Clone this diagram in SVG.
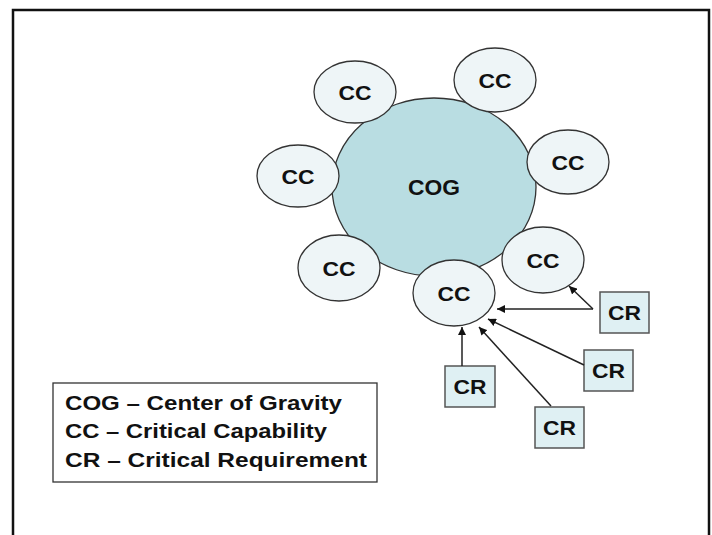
<svg xmlns="http://www.w3.org/2000/svg" width="712" height="535" viewBox="0 0 712 535">
  <defs>
    <marker id="arrow" viewBox="0 0 10 10" refX="10" refY="5" markerWidth="8" markerHeight="8" markerUnits="userSpaceOnUse" orient="auto">
      <path d="M0,0 L10,5 L0,10 z" fill="#111"/>
    </marker>
    <style>
      .frame { fill: none; stroke: #111; stroke-width: 2.5; }
      .cog { fill: #b9dde2; stroke: #333; stroke-width: 1.3; }
      .cc { fill: #eef5f7; stroke: #333; stroke-width: 1.3; }
      .cr { fill: #dff0f3; stroke: #555; stroke-width: 1.5; }
      .lbl { font-family: "Liberation Sans", Arial, sans-serif; font-weight: bold; fill: #111; text-anchor: middle; }
      .cc-t { font-size: 21px; }
      .cog-t { font-size: 22px; }
      .legend-box { fill: #fff; stroke: #333; stroke-width: 1.3; }
      .legend-t { font-family: "Liberation Sans", Arial, sans-serif; font-weight: bold; font-size: 20px; fill: #111; }
      .conn { fill: none; stroke: #222; stroke-width: 1.5; }
    </style>
  </defs>

  <rect x="0" y="0" width="712" height="535" fill="#fff"/>
  <!-- slide frame -->
  <rect class="frame" x="13" y="10" width="696" height="540"/>

  <!-- centre of gravity -->
  <g id="cog">
    <ellipse class="cog" cx="434" cy="187" rx="102" ry="89"/>
    <text class="lbl cog-t" x="434" y="195" textLength="52" lengthAdjust="spacingAndGlyphs">COG</text>
  </g>

  <!-- critical capabilities -->
  <g id="cc-top-left">
    <ellipse class="cc" cx="355" cy="92" rx="41" ry="31"/>
    <text class="lbl cc-t" x="355" y="100" textLength="33" lengthAdjust="spacingAndGlyphs">CC</text>
  </g>
  <g id="cc-top-right">
    <ellipse class="cc" cx="495" cy="80" rx="41" ry="32"/>
    <text class="lbl cc-t" x="495" y="88" textLength="33" lengthAdjust="spacingAndGlyphs">CC</text>
  </g>
  <g id="cc-right">
    <ellipse class="cc" cx="568" cy="162" rx="41" ry="32"/>
    <text class="lbl cc-t" x="568" y="170" textLength="33" lengthAdjust="spacingAndGlyphs">CC</text>
  </g>
  <g id="cc-left">
    <ellipse class="cc" cx="298" cy="176" rx="41" ry="31"/>
    <text class="lbl cc-t" x="298" y="184" textLength="33" lengthAdjust="spacingAndGlyphs">CC</text>
  </g>
  <g id="cc-bottom-left">
    <ellipse class="cc" cx="339" cy="268" rx="41" ry="33"/>
    <text class="lbl cc-t" x="339" y="276" textLength="33" lengthAdjust="spacingAndGlyphs">CC</text>
  </g>
  <g id="cc-bottom-right">
    <ellipse class="cc" cx="543" cy="260" rx="41" ry="33"/>
    <text class="lbl cc-t" x="543" y="268" textLength="33" lengthAdjust="spacingAndGlyphs">CC</text>
  </g>
  <g id="cc-bottom">
    <ellipse class="cc" cx="454" cy="293" rx="41" ry="33"/>
    <text class="lbl cc-t" x="454" y="301" textLength="33" lengthAdjust="spacingAndGlyphs">CC</text>
  </g>

  <!-- critical requirements -->
  <g id="cr-1">
    <rect class="cr" x="600" y="292" width="49" height="41"/>
    <text class="lbl cc-t" x="624.5" y="320" textLength="33" lengthAdjust="spacingAndGlyphs">CR</text>
  </g>
  <g id="cr-2">
    <rect class="cr" x="584" y="350" width="49" height="41"/>
    <text class="lbl cc-t" x="608.5" y="378" textLength="33" lengthAdjust="spacingAndGlyphs">CR</text>
  </g>
  <g id="cr-3">
    <rect class="cr" x="535" y="407" width="49" height="41"/>
    <text class="lbl cc-t" x="559.5" y="435" textLength="33" lengthAdjust="spacingAndGlyphs">CR</text>
  </g>
  <g id="cr-4">
    <rect class="cr" x="445" y="366" width="50" height="41"/>
    <text class="lbl cc-t" x="470" y="394" textLength="33" lengthAdjust="spacingAndGlyphs">CR</text>
  </g>

  <!-- requirement links -->
  <g id="connectors">
    <line class="conn" x1="593" y1="309" x2="569" y2="286" marker-end="url(#arrow)"/>
    <line class="conn" x1="593" y1="309" x2="497" y2="309" marker-end="url(#arrow)"/>
    <line class="conn" x1="584" y1="365" x2="488" y2="319" marker-end="url(#arrow)"/>
    <line class="conn" x1="551" y1="406" x2="479" y2="327" marker-end="url(#arrow)"/>
    <line class="conn" x1="462" y1="366" x2="462" y2="327" marker-end="url(#arrow)"/>
  </g>

  <!-- abbreviations -->
  <g id="legend">
    <rect class="legend-box" x="53" y="383" width="324" height="99"/>
    <text class="legend-t" x="65" y="410" textLength="277" lengthAdjust="spacingAndGlyphs">COG – Center of Gravity</text>
    <text class="legend-t" x="65" y="438" textLength="262" lengthAdjust="spacingAndGlyphs">CC – Critical Capability</text>
    <text class="legend-t" x="65" y="467" textLength="302" lengthAdjust="spacingAndGlyphs">CR – Critical Requirement</text>
  </g>
</svg>
